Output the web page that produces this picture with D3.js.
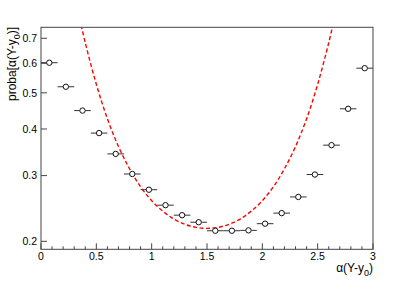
<!DOCTYPE html>
<html>
<head>
<meta charset="utf-8">
<script src="https://cdn.jsdelivr.net/npm/d3@7"></script>
<style>
  body { margin: 0; background: #fff; }
  text { font-family: "Liberation Sans", Arial, sans-serif; }
</style>
</head>
<body>
<div id="chart"></div>
<script>
// measured points (bin centres, values)
const binCentres = [0.075, 0.225, 0.375, 0.525, 0.675, 0.825, 0.975, 1.125, 1.275, 1.425,
                    1.575, 1.725, 1.875, 2.025, 2.175, 2.325, 2.475, 2.625, 2.775, 2.925];
const binValues = [0.602, 0.519, 0.448, 0.390, 0.343, 0.303, 0.275, 0.250, 0.235, 0.225,
                   0.2135, 0.2135, 0.214, 0.223, 0.238, 0.263, 0.302, 0.362, 0.453, 0.582];
const binHalfWidth = 0.075;

// red dashed curve
const curveX = [0.35, 0.4, 0.5, 0.6, 0.7, 0.8, 0.9, 1.0, 1.1, 1.2, 1.3, 1.4, 1.5,
                1.6, 1.7, 1.8, 1.9, 2.0, 2.1, 2.2, 2.3, 2.4, 2.5, 2.6, 2.65];
const curveY = [0.789, 0.681, 0.527, 0.426, 0.359, 0.313, 0.280, 0.257, 0.241, 0.2295, 0.2222, 0.218, 0.2167,
                0.218, 0.2222, 0.2295, 0.241, 0.257, 0.280, 0.313, 0.359, 0.426, 0.527, 0.681, 0.789];

const xTicks = [0, 0.5, 1, 1.5, 2, 2.5, 3];
const yTicks = [0.2, 0.3, 0.4, 0.5, 0.6, 0.7];

const W = 415, H = 281;
const padL = 41, padR = 373, padT = 27.3, padB = 249.3;

const svg = d3.select("#chart").append("svg")
    .attr("width", W)
    .attr("height", H);

const x = d3.scaleLinear().domain([0, 3]).range([padL, padR]);
const y = d3.scaleLog().domain([0.1904, 0.749]).range([padB, padT]);

svg.append("defs").append("clipPath").attr("id", "frame")
  .append("rect")
    .attr("x", padL).attr("y", padT)
    .attr("width", padR - padL).attr("height", padB - padT);

// frame
svg.append("rect")
    .attr("x", padL).attr("y", padT)
    .attr("width", padR - padL).attr("height", padB - padT)
    .attr("fill", "none")
    .attr("stroke", "#444")
    .attr("stroke-width", 1);

// x axis ticks (inside, ROOT style)
const minorX = d3.range(0, 31).map(d => d / 10);
svg.append("g").selectAll("line")
    .data(minorX)
    .enter().append("line")
    .attr("x1", d => x(d)).attr("x2", d => x(d))
    .attr("y1", padB)
    .attr("y2", (d, i) => i % 5 === 0 ? padB - 6 : padB - 3)
    .attr("stroke", "#444");

svg.append("g").selectAll("text")
    .data(xTicks)
    .enter().append("text")
    .attr("x", d => x(d))
    .attr("y", padB + 10.7)
    .attr("text-anchor", "middle")
    .style("font-size", "10.5px")
    .text(d => d);

// y axis ticks
svg.append("g").selectAll("line")
    .data(yTicks)
    .enter().append("line")
    .attr("x1", padL).attr("x2", padL + 6)
    .attr("y1", d => y(d)).attr("y2", d => y(d))
    .attr("stroke", "#444");

svg.append("g").selectAll("text")
    .data(yTicks)
    .enter().append("text")
    .attr("x", padL - 4)
    .attr("y", d => y(d) + 3.7)
    .attr("text-anchor", "end")
    .style("font-size", "10.5px")
    .text(d => d3.format(".1f")(d));

// axis titles
const xt = svg.append("text")
    .attr("x", padR)
    .attr("y", 272)
    .attr("text-anchor", "end")
    .style("font-size", "12px");
xt.append("tspan").text("α(Y-y");
xt.append("tspan").attr("dy", 4).style("font-size", "9px").text("0");
xt.append("tspan").attr("dy", -4).text(")");

const yt = svg.append("text")
    .attr("transform", "translate(16," + (padT - 0.5) + ") rotate(-90)")
    .attr("text-anchor", "end")
    .style("font-size", "12px");
yt.append("tspan").text("proba[α(Y-y");
yt.append("tspan").attr("dy", 4).style("font-size", "9px").text("0");
yt.append("tspan").attr("dy", -4).text(")]");

// red dashed curve
const curveData = curveX.map((d, i) => [d, curveY[i]]);
const line = d3.line()
    .x(d => x(d[0]))
    .y(d => y(d[1]))
    .curve(d3.curveCatmullRom);

svg.append("path")
    .datum(curveData)
    .attr("clip-path", "url(#frame)")
    .attr("d", line)
    .attr("fill", "none")
    .attr("stroke", "#ff0000")
    .attr("stroke-width", 1.4)
    .attr("stroke-dasharray", "4,2.5");

// points with horizontal error bars
const pts = binCentres.map((d, i) => ({ x: d, y: binValues[i] }));
const r = 2.7;

const g = svg.append("g");
g.selectAll("line.left")
    .data(pts)
    .enter().append("line")
    .attr("x1", d => x(d.x - binHalfWidth)).attr("x2", d => x(d.x) - r)
    .attr("y1", d => y(d.y)).attr("y2", d => y(d.y))
    .attr("stroke", "#333");
g.selectAll("line.right")
    .data(pts)
    .enter().append("line")
    .attr("x1", d => x(d.x) + r).attr("x2", d => x(d.x + binHalfWidth))
    .attr("y1", d => y(d.y)).attr("y2", d => y(d.y))
    .attr("stroke", "#333");
g.selectAll("circle")
    .data(pts)
    .enter().append("circle")
    .attr("cx", d => x(d.x))
    .attr("cy", d => y(d.y))
    .attr("r", r)
    .attr("fill", "#fff")
    .attr("stroke", "#111")
    .attr("stroke-width", 1);
</script>
</body>
</html>
